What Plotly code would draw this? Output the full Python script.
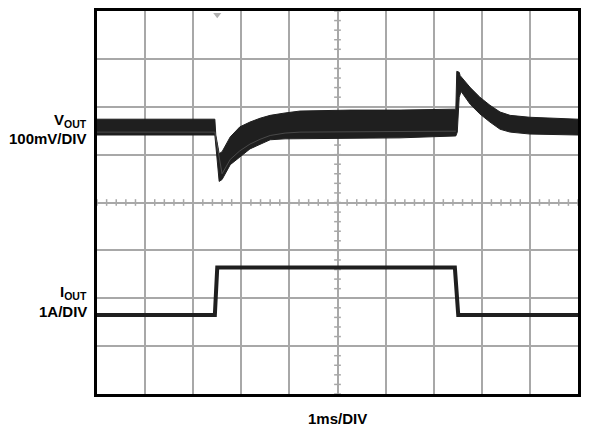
import numpy as np
import plotly.graph_objects as go

# ---- data (time in ms, 1 ms/DIV; vertical values in screen divisions) ----
# VOUT trace: upper and lower envelope of the noisy band
vout_upper_t = [0.00, 2.45, 2.47, 2.54, 2.60, 2.77, 2.97, 3.18, 3.39, 3.60, 3.91, 4.22, 5.26, 6.30,
                7.46, 7.48, 7.53, 7.55, 7.76, 7.96, 8.17, 8.38, 8.59, 9.00, 10.00]
vout_upper_v = [5.74, 5.74, 5.41, 5.02, 5.06, 5.37, 5.58, 5.68, 5.76, 5.82, 5.87, 5.91, 5.93, 5.93,
                5.95, 6.74, 6.72, 6.65, 6.40, 6.20, 6.03, 5.89, 5.82, 5.78, 5.74]
vout_lower_t = [0.00, 2.45, 2.54, 2.56, 2.60, 2.77, 2.97, 3.18, 3.39, 3.60, 3.91, 4.22, 6.30,
                7.46, 7.49, 7.53, 7.57, 7.76, 7.96, 8.17, 8.38, 8.59, 9.00, 10.00]
vout_lower_v = [5.41, 5.41, 4.44, 4.44, 4.48, 4.79, 4.95, 5.12, 5.22, 5.31, 5.33, 5.33, 5.35,
                5.39, 5.47, 6.20, 6.32, 6.05, 5.85, 5.68, 5.53, 5.47, 5.43, 5.41]
# slightly lighter inner line inside the VOUT band
vout_inner_t = [0.00, 2.45, 2.60, 2.77, 2.97, 3.18, 3.39, 3.60, 3.91, 4.22, 7.46]
vout_inner_v = [5.47, 5.47, 4.60, 4.90, 5.08, 5.22, 5.32, 5.40, 5.45, 5.47, 5.49]

# IOUT trace
iout_t = [0.00, 2.45, 2.50, 7.44, 7.51, 10.00]
iout_v = [1.65, 1.65, 2.64, 2.64, 1.65, 1.65]

n_xdiv, n_ydiv = 10, 8
trigger_t = 2.50

fig = go.Figure()

# minor ticks on the centre graticule lines
tick_shapes = []
for xv in np.arange(0, n_xdiv + 0.001, 0.2):
    tick_shapes.append(dict(type="line", xref="x", yref="y", x0=xv, x1=xv,
                            y0=n_ydiv / 2 - 0.07, y1=n_ydiv / 2 + 0.07,
                            line=dict(color="#a8a8a8", width=1.5), layer="below"))
for yv in np.arange(0, n_ydiv + 0.001, 0.2):
    tick_shapes.append(dict(type="line", xref="x", yref="y", y0=yv, y1=yv,
                            x0=n_xdiv / 2 - 0.07, x1=n_xdiv / 2 + 0.07,
                            line=dict(color="#a8a8a8", width=1.5), layer="below"))

# VOUT band
band_x = vout_upper_t + vout_lower_t[::-1]
band_y = vout_upper_v + vout_lower_v[::-1]
fig.add_trace(go.Scatter(x=band_x, y=band_y, fill="toself", mode="lines",
                         fillcolor="#1f1f1f", line=dict(color="#1f1f1f", width=1),
                         hoverinfo="skip", showlegend=False))
fig.add_trace(go.Scatter(x=vout_inner_t, y=vout_inner_v, mode="lines",
                         line=dict(color="#4a4a4a", width=1),
                         hoverinfo="skip", showlegend=False))
# IOUT
fig.add_trace(go.Scatter(x=iout_t, y=iout_v, mode="lines",
                         line=dict(color="#1f1f1f", width=4),
                         hoverinfo="skip", showlegend=False))
# trigger marker
fig.add_trace(go.Scatter(x=[trigger_t], y=[n_ydiv - 0.08], mode="markers",
                         marker=dict(symbol="triangle-down", size=7, color="#b0b0b0"),
                         hoverinfo="skip", showlegend=False))

font = dict(family="Liberation Sans, Arial, sans-serif", size=15, color="black")
L, T, W, H = 97, 8, 481, 386


def px(xp):
    return (xp - L) / W


def py(yp):
    return (T + H - yp) / H


annotations = [
    dict(text="<b>V<sub>OUT</sub></b>", x=px(89), y=py(118), xanchor="right", yanchor="middle"),
    dict(text="<b>100mV/DIV</b>", x=px(89), y=py(137), xanchor="right", yanchor="middle"),
    dict(text="<b>I<sub>OUT</sub></b>", x=px(89), y=py(292), xanchor="right", yanchor="middle"),
    dict(text="<b>1A/DIV</b>", x=px(89), y=py(311), xanchor="right", yanchor="middle"),
    dict(text="<b>1ms/DIV</b>", x=px(337), y=py(418.5), xanchor="center", yanchor="middle"),
]
for a in annotations:
    a.update(xref="paper", yref="paper", showarrow=False, font=font)

fig.update_layout(
    width=600, height=430,
    margin=dict(l=L, r=600 - L - W, t=T, b=430 - T - H),
    paper_bgcolor="white", plot_bgcolor="white",
    shapes=tick_shapes, annotations=annotations,
    xaxis=dict(range=[0, n_xdiv], dtick=1, tick0=0, showgrid=True, gridcolor="#a8a8a8",
               gridwidth=1.5, zeroline=False, showticklabels=False, ticks="",
               showline=True, linecolor="black", linewidth=2.5, mirror=True, fixedrange=True),
    yaxis=dict(range=[0, n_ydiv], dtick=1, tick0=0, showgrid=True, gridcolor="#a8a8a8",
               gridwidth=1.5, zeroline=False, showticklabels=False, ticks="",
               showline=True, linecolor="black", linewidth=2.5, mirror=True, fixedrange=True),
)

fig.write_html("out.html", config={"displayModeBar": False},
               post_script="document.body.style.margin='0';document.body.style.padding='0';")
